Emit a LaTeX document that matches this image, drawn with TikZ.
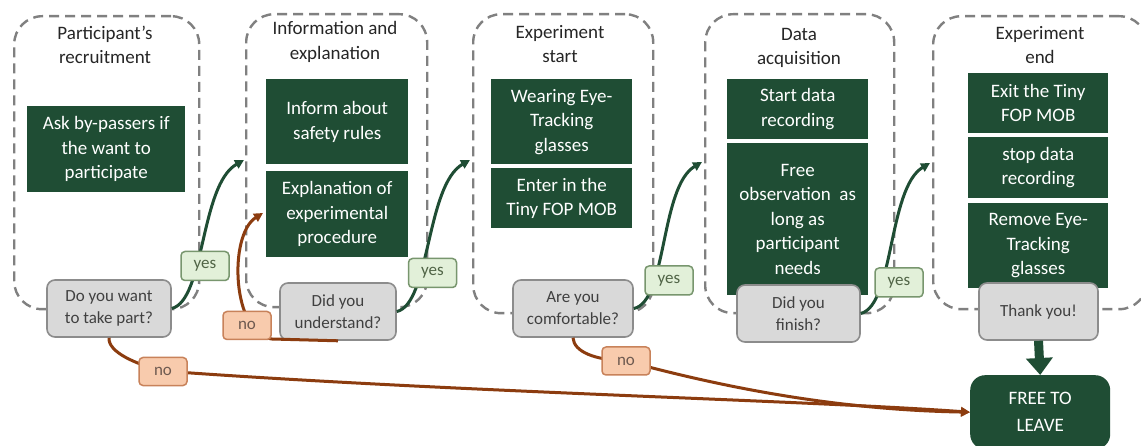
\documentclass[tikz,border=0pt]{standalone}
\usepackage{fontspec}
\setmainfont{Carlito}
\usetikzlibrary{arrows.meta}
\definecolor{dgreen}{RGB}{31,77,52}
\definecolor{qfill}{RGB}{217,217,217}
\definecolor{qdraw}{RGB}{140,140,140}
\definecolor{qtext}{RGB}{64,64,64}
\definecolor{yfill}{RGB}{226,240,217}
\definecolor{ydraw}{RGB}{120,150,110}
\definecolor{ytext}{RGB}{80,100,70}
\definecolor{nfill}{RGB}{248,203,173}
\definecolor{ndraw}{RGB}{200,130,90}
\definecolor{ntext}{RGB}{110,90,80}
\definecolor{brownarr}{RGB}{140,60,15}
\definecolor{dashgray}{RGB}{128,128,128}
\definecolor{ttext}{RGB}{38,38,38}
\tikzset{
  container/.style={draw=dashgray, line width=2.4pt, dash pattern=on 10pt off 6pt, rounded corners=28pt, inner sep=0pt, anchor=north west},
  ttl/.style={align=center, text=ttext, font=\fontsize{19}{24.5}\selectfont, inner sep=0pt},
  dbox/.style={fill=dgreen, text=white, align=center, inner sep=0pt, anchor=north west, font=\fontsize{19}{24.5}\selectfont},
  qbox/.style={fill=qfill, draw=qdraw, line width=1.6pt, rounded corners=8pt, align=center, text=qtext, inner sep=0pt, font=\fontsize{17}{22}\selectfont},
  ylab/.style={fill=yfill, draw=ydraw, line width=1.5pt, rounded corners=4pt, minimum width=48pt, minimum height=29pt, inner sep=0pt, text=ytext, font=\fontsize{17}{20}\selectfont},
  nlab/.style={fill=nfill, draw=ndraw, line width=1.5pt, rounded corners=4pt, minimum width=48pt, minimum height=28pt, inner sep=0pt, text=ntext, font=\fontsize{17}{20}\selectfont},
  yesarr/.style={draw=dgreen, line width=3pt, -{Triangle[length=9pt,width=9pt]}},
  noarr/.style={draw=brownarr, line width=3pt, -{Triangle[length=9pt,width=9pt]}},
}
\begin{document}
\begin{tikzpicture}[x=1pt,y=-1pt]
\useasboundingbox (0,0) rectangle (1141,446);
\clip (0,0) rectangle (1141,446);
\fill[white] (0,0) rectangle (1141,446);

% containers
\node[container, minimum width=185pt, minimum height=293pt] (c1) at (13,15) {};
\node[container, minimum width=181pt, minimum height=293pt] (c2) at (245,13) {};
\node[container, minimum width=180pt, minimum height=299pt] (c3) at (472,13) {};
\node[container, minimum width=189pt, minimum height=299pt] (c4) at (704,13) {};
\node[container, minimum width=214pt, minimum height=293pt] (c5) at (932,15) {};

% titles
\node[ttl] (t1) at (105,45) {Participant's\\recruitment};
\node[ttl] (t2) at (335,42) {Information and\\explanation};
\node[ttl] (t3) at (560,44) {Experiment\\start};
\node[ttl] (t4) at (799,48) {Data\\acquisition};
\node[ttl] (t5) at (1040,45) {Experiment\\end};

% dark boxes
\node[dbox, minimum width=158pt, minimum height=86pt] (d1) at (27,106) {Ask by-passers if\\the want to\\participate};
\node[dbox, minimum width=142pt, minimum height=85pt] (d2a) at (266,79) {Inform about\\safety rules};
\node[dbox, minimum width=142pt, minimum height=86pt] (d2b) at (266,171) {Explanation of\\experimental\\procedure};
\node[dbox, minimum width=141pt, minimum height=85pt] (d3a) at (491,79) {Wearing Eye-\\Tracking\\glasses};
\node[dbox, minimum width=141pt, minimum height=60pt] (d3b) at (491,168) {Enter in the\\Tiny FOP MOB};
\node[dbox, minimum width=141pt, minimum height=60pt] (d4a) at (727,79) {Start data\\recording};
\node[dbox, minimum width=141pt, minimum height=152pt] (d4b) at (727,143) {Free\\observation~ as\\long as\\participant\\needs};
\node[dbox, minimum width=140pt, minimum height=60pt] (d5a) at (968,73) {Exit the Tiny\\FOP MOB};
\node[dbox, minimum width=140pt, minimum height=61pt] (d5b) at (968,137) {stop data\\recording};
\node[dbox, minimum width=140pt, minimum height=85pt] (d5c) at (968,203) {Remove Eye-\\Tracking\\glasses};

% final box
\node[fill=dgreen, rounded corners=15pt, minimum width=140pt, minimum height=74pt, inner sep=0pt, anchor=north west, align=center, text=white, font=\fontsize{19}{27}\selectfont] (ftl) at (970,375) {FREE TO\\LEAVE};

% question boxes
\node[qbox, minimum width=124pt, minimum height=57pt] (q1) at (109,308.5) {Do you want\\to take part?};
\node[qbox, minimum width=116pt, minimum height=57pt] (q2) at (338,311.5) {Did you\\understand?};
\node[qbox, minimum width=120pt, minimum height=57pt] (q3) at (573,308.5) {Are you\\comfortable?};
\node[qbox, minimum width=123pt, minimum height=57pt] (q4) at (798.5,313.5) {Did you\\finish?};
\node[qbox, minimum width=119pt, minimum height=57pt] (q5) at (1038.5,311.5) {Thank you!};

% arrow targets
\coordinate (a1) at (244,160);
\coordinate (a2) at (470,160);
\coordinate (a3) at (702,162);
\coordinate (a4) at (930,163);
\coordinate (b2) at (263,213);
\coordinate (k2) at (272,339);

% yes arrows
\draw[yesarr] (q1.east) .. controls (205,300) and (200,185) .. (a1);
\draw[yesarr] (q2.east) .. controls (430,304) and (426,185) .. (a2);
\draw[yesarr] (q3.east) .. controls (667,302) and (660,187) .. (a3);
\draw[yesarr] (q4.east) .. controls (894,305) and (888,188) .. (a4);

% no arrows
\coordinate (m1) at (163,371);
\coordinate (m3) at (626,361);
\draw[noarr] (q1.south) .. controls (108,352) and (135,364) .. (m1) .. controls (450,392) and (800,400) .. (ftl.west);
\draw[noarr] (q3.south) .. controls (574,352) and (595,360) .. (m3) .. controls (740,392) and (850,410) .. (ftl.west);
\draw[noarr] (q2.south) -- (k2) .. controls (232,335) and (228,235) .. (b2);

% thick arrow
\draw[dgreen, line width=9pt, -{Triangle[length=17pt,width=26pt]}] (q5.south) -- (ftl.north);

% labels
\node[ylab] (y1) at (205,266) {yes};
\node[ylab] (y2) at (432.5,273) {yes};
\node[ylab] (y3) at (669,280.5) {yes};
\node[ylab] (y4) at (899,282.5) {yes};
\node[nlab] (n1) at (163,371.5) {no};
\node[nlab] (n2) at (247,325.5) {no};
\node[nlab] (n3) at (626,361) {no};
\end{tikzpicture}
\end{document}
